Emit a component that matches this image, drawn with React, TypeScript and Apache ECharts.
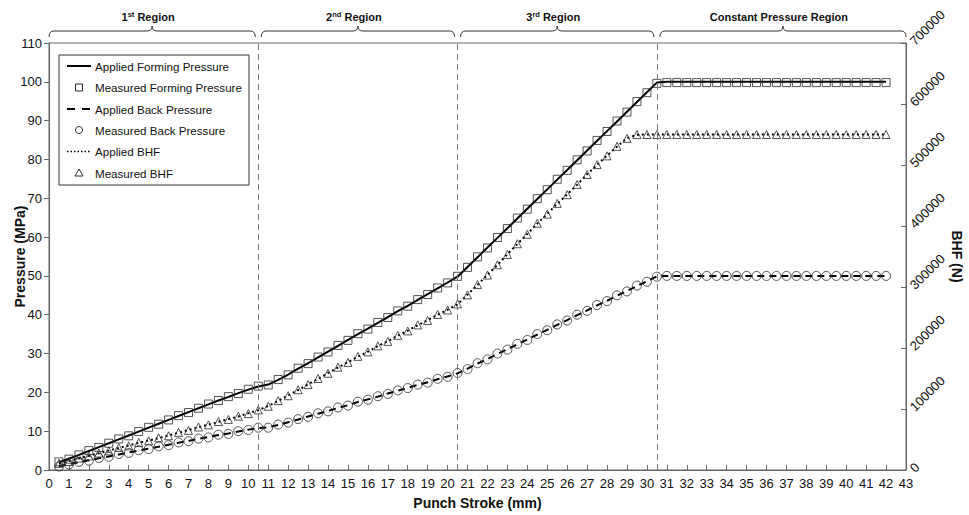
import React, { useEffect, useRef } from "react";
import * as echarts from "echarts";

// Punch stroke (mm) at which the values are sampled
const stroke = [
  0.5, 1, 1.5, 2, 2.5, 3, 3.5, 4, 4.5, 5, 5.5, 6, 6.5, 7, 7.5, 8, 8.5, 9, 9.5, 10, 10.5,
  11, 11.5, 12, 12.5, 13, 13.5, 14, 14.5, 15, 15.5, 16, 16.5, 17, 17.5, 18, 18.5, 19, 19.5, 20, 20.5,
  21, 21.5, 22, 22.5, 23, 23.5, 24, 24.5, 25, 25.5, 26, 26.5, 27, 27.5, 28, 28.5, 29, 29.5, 30, 30.5,
  31, 31.5, 32, 32.5, 33, 33.5, 34, 34.5, 35, 35.5, 36, 36.5, 37, 37.5, 38, 38.5, 39, 39.5, 40, 40.5, 41, 41.5, 42,
];

// Pressure (MPa)
const appliedForming = [
  2.0, 2.9, 3.9, 4.9, 5.9, 6.9, 7.9, 8.9, 9.9, 10.9, 11.9, 12.9, 13.9, 14.9, 15.9, 16.9, 17.9, 18.8, 19.8, 20.7, 21.5,
  22.0, 23.2, 24.6, 26.1, 27.5, 29.0, 30.5, 32.0, 33.5, 35.0, 36.4, 37.9, 39.4, 40.9, 42.3, 43.8, 45.3, 46.8, 48.3, 49.8,
  52.3, 54.8, 57.3, 59.8, 62.3, 64.8, 67.3, 69.8, 72.3, 74.8, 77.3, 79.8, 82.3, 84.8, 87.3, 89.8, 92.3, 94.8, 97.3, 99.8,
  100, 100, 100, 100, 100, 100, 100, 100, 100, 100, 100, 100, 100, 100, 100, 100, 100, 100, 100, 100, 100, 100, 100,
];
const measuredForming = [
  2.1, 2.8, 3.9, 5.0, 5.8, 6.9, 8.0, 8.8, 9.9, 11.0, 11.8, 12.9, 14.0, 14.8, 15.9, 17.0, 17.9, 18.9, 19.7, 20.8, 21.6,
  21.9, 23.3, 24.5, 26.2, 27.4, 29.1, 30.4, 32.1, 33.4, 35.1, 36.3, 38.0, 39.3, 41.0, 42.2, 43.9, 45.2, 46.9, 48.2, 49.9,
  52.2, 54.9, 57.2, 59.9, 62.2, 64.9, 67.2, 69.9, 72.2, 74.9, 77.2, 79.9, 82.2, 84.9, 87.2, 89.9, 92.2, 94.9, 97.2, 99.6,
  99.8, 99.8, 99.8, 99.8, 99.8, 99.8, 99.8, 99.8, 99.8, 99.8, 99.8, 99.8, 99.8, 99.8, 99.8, 99.8, 99.8, 99.8, 99.8, 99.8, 99.8, 99.8, 99.8,
];
const appliedBack = [
  1.0, 1.5, 2.0, 2.5, 3.0, 3.5, 4.0, 4.5, 5.0, 5.5, 6.0, 6.5, 7.0, 7.5, 8.0, 8.5, 9.0, 9.4, 9.9, 10.4, 10.8,
  11.0, 11.6, 12.3, 13.0, 13.8, 14.5, 15.2, 16.0, 16.7, 17.5, 18.2, 18.9, 19.7, 20.4, 21.2, 21.9, 22.6, 23.4, 24.1, 24.9,
  26.1, 27.4, 28.6, 29.9, 31.1, 32.4, 33.6, 34.9, 36.1, 37.4, 38.6, 39.9, 41.1, 42.4, 43.6, 44.9, 46.1, 47.4, 48.6, 49.9,
  50, 50, 50, 50, 50, 50, 50, 50, 50, 50, 50, 50, 50, 50, 50, 50, 50, 50, 50, 50, 50, 50, 50,
];
const measuredBack = [
  0.9, 1.4, 2.1, 2.4, 3.1, 3.4, 4.1, 4.4, 5.1, 5.4, 6.1, 6.4, 7.1, 7.4, 8.1, 8.4, 9.1, 9.3, 10.0, 10.3, 10.9,
  10.9, 11.7, 12.2, 13.1, 13.7, 14.6, 15.1, 16.1, 16.6, 17.6, 18.1, 19.0, 19.6, 20.5, 21.1, 22.0, 22.5, 23.5, 24.0, 25.0,
  26.0, 27.5, 28.5, 30.0, 31.0, 32.5, 33.5, 35.0, 36.0, 37.5, 38.5, 40.0, 41.0, 42.5, 43.5, 45.0, 46.0, 47.5, 48.5, 49.8,
  50, 50, 50, 50, 50, 50, 50, 50, 50, 50, 50, 50, 50, 50, 50, 50, 50, 50, 50, 50, 50, 50, 50,
];

// Blank holder force (N)
const appliedBHF = [
  10200, 14600, 19100, 23500, 27400, 31800, 36300, 40100, 44500, 48400, 52200, 56600, 61100, 65500, 70000, 74500, 78900, 83400, 87800, 92900, 98000,
  105000, 113300, 122200, 131100, 140600, 149500, 159100, 168000, 176900, 185800, 194100, 203000, 211300, 220200, 228500, 237400, 245600, 254500, 262800, 271700,
  287600, 303500, 320100, 336000, 353800, 370400, 386900, 404100, 420000, 436500, 451800, 467700, 484900, 500200, 515500, 530100, 544100, 549500, 550000, 550000,
  550000, 550000, 550000, 550000, 550000, 550000, 550000, 550000, 550000, 550000, 550000, 550000, 550000, 550000, 550000, 550000, 550000, 550000, 550000, 550000, 550000, 550000, 550000,
];
const measuredBHF = [
  10800, 14000, 19600, 23000, 27900, 31300, 36800, 39600, 45000, 47900, 52700, 56100, 61600, 65000, 70500, 74000, 79400, 82900, 88300, 92400, 98500,
  104500, 113800, 121700, 131600, 140100, 150000, 158600, 168500, 176400, 186300, 193600, 203500, 210800, 220700, 228000, 237900, 245100, 255000, 262300, 272200,
  287100, 304000, 319600, 336500, 353300, 370900, 386400, 404600, 419500, 437000, 451300, 468200, 484400, 500700, 515000, 530600, 543600, 550000, 550000, 550000,
  550000, 550000, 550000, 550000, 550000, 550000, 550000, 550000, 550000, 550000, 550000, 550000, 550000, 550000, 550000, 550000, 550000, 550000, 550000, 550000, 550000, 550000, 550000,
];

// Region boundaries along the stroke (mm) and their titles
const regionBounds = [0, 10.5, 20.5, 30.5, 43];
const regionTitles = [
  "{b|1}{s|st}{b| Region}",
  "{b|2}{s|nd}{b| Region}",
  "{b|3}{s|rd}{b| Region}",
  "{b|Constant Pressure Region}",
];
const legendLabels = [
  "Applied Forming Pressure",
  "Measured Forming Pressure",
  "Applied Back Pressure",
  "Measured Back Pressure",
  "Applied BHF",
  "Measured BHF",
];

const FONT = "'Liberation Sans', Arial, Helvetica, sans-serif";

export default function App() {
  const ref = useRef<HTMLDivElement>(null);

  useEffect(() => {
    document.body.style.margin = "0";
    const chart = echarts.init(ref.current!, null, { renderer: "svg" });
    const pair = (ys: number[]) => stroke.map((x, i) => [x, ys[i]]);
    const markerStyle = { color: "rgba(0,0,0,0)", borderColor: "#2a2a2a", borderWidth: 1 };

    chart.setOption({
      animation: false,
      backgroundColor: "#ffffff",
      textStyle: { fontFamily: FONT },
      grid: {
        left: 49, right: 63, top: 43, bottom: 45,
        containLabel: false, outerBoundsMode: "none",
        show: true, borderColor: "#666", borderWidth: 1, backgroundColor: "transparent",
      },
      xAxis: {
        type: "value",
        min: 0,
        max: 43,
        interval: 1,
        name: "Punch Stroke (mm)",
        nameLocation: "middle",
        nameGap: 26,
        nameMoveOverlap: false,
        nameTextStyle: { fontFamily: FONT, fontSize: 14, fontWeight: "bold", color: "#111" },
        axisLine: { show: true, lineStyle: { color: "#666" } },
        axisTick: { show: true, inside: true, length: 5, lineStyle: { color: "#666" } },
        axisLabel: { fontFamily: FONT, fontSize: 13, color: "#111", margin: 7 },
        splitLine: { show: false },
      },
      yAxis: [
        {
          type: "value",
          min: 0,
          max: 110,
          interval: 10,
          position: "left",
          name: "Pressure (MPa)",
          nameLocation: "middle",
          nameGap: 22,
          nameMoveOverlap: false,
          nameTextStyle: { fontFamily: FONT, fontSize: 14, fontWeight: "bold", color: "#111" },
          axisLine: { show: true, lineStyle: { color: "#666" } },
          axisTick: { show: true, inside: false, length: 5, lineStyle: { color: "#666" } },
          axisLabel: { fontFamily: FONT, fontSize: 13, color: "#111", margin: 7 },
          splitLine: { show: false },
        },
        {
          type: "value",
          min: 0,
          max: 700000,
          interval: 100000,
          position: "right",
          name: "BHF (N)",
          nameLocation: "middle",
          nameRotate: -90,
          nameGap: 44,
          nameMoveOverlap: false,
          nameTextStyle: { fontFamily: FONT, fontSize: 14, fontWeight: "bold", color: "#111" },
          axisLine: { show: true, lineStyle: { color: "#666" } },
          axisTick: { show: true, inside: true, length: 5, lineStyle: { color: "#666" } },
          axisLabel: {
            fontFamily: FONT, fontSize: 13, color: "#111", margin: 6, rotate: 45,
            formatter: (v: number) => String(v),
          },
          splitLine: { show: false },
        },
      ],
      series: [
        {
          name: "Applied Forming Pressure",
          type: "line",
          data: pair(appliedForming),
          showSymbol: false,
          symbol: "none",
          z: 2,
          lineStyle: { color: "#000", width: 2 },
          markLine: {
            symbol: "none",
            silent: true,
            label: { show: false },
            lineStyle: { color: "#777", width: 1, type: [6, 4] },
            data: regionBounds.slice(1, 4).map((v) => ({ xAxis: v })),
          },
        },
        {
          name: "Measured Forming Pressure",
          type: "scatter",
          data: pair(measuredForming),
          symbol: "rect",
          symbolSize: 8,
          z: 3,
          itemStyle: markerStyle,
        },
        {
          name: "Applied Back Pressure",
          type: "line",
          data: pair(appliedBack),
          showSymbol: false,
          symbol: "none",
          z: 2,
          lineStyle: { color: "#000", width: 2, type: [7, 5] },
        },
        {
          name: "Measured Back Pressure",
          type: "scatter",
          data: pair(measuredBack),
          symbol: "circle",
          symbolSize: 9,
          z: 3,
          itemStyle: markerStyle,
        },
        {
          name: "Applied BHF",
          type: "line",
          yAxisIndex: 1,
          data: pair(appliedBHF),
          showSymbol: false,
          symbol: "none",
          z: 2,
          lineStyle: { color: "#000", width: 2, type: [2, 3] },
        },
        {
          name: "Measured BHF",
          type: "scatter",
          yAxisIndex: 1,
          data: pair(measuredBHF),
          symbol: "triangle",
          symbolSize: 8,
          z: 3,
          itemStyle: markerStyle,
        },
      ],
    });

    // Braces and region titles above the plot
    const px = (v: number) => chart.convertToPixel({ xAxisIndex: 0 }, v) as number;
    const graphics: any[] = [];
    const yl = 31;
    const yEnd = 37;
    const yTip = 26;
    const bs = { stroke: "#333", lineWidth: 1, fill: "none" };
    for (let i = 0; i < 4; i++) {
      const x1 = px(regionBounds[i]) + (i === 0 ? 0 : 3);
      const x2 = px(regionBounds[i + 1]) - (i === 3 ? 0 : 3);
      const xm = (x1 + x2) / 2;
      graphics.push(
        { type: "bezierCurve", shape: { x1, y1: yEnd, x2: x1 + 5, y2: yl, cpx1: x1, cpy1: yl }, style: bs },
        { type: "line", shape: { x1: x1 + 5, y1: yl, x2: xm - 5, y2: yl }, style: bs },
        { type: "bezierCurve", shape: { x1: xm - 5, y1: yl, x2: xm, y2: yTip, cpx1: xm, cpy1: yl }, style: bs },
        { type: "bezierCurve", shape: { x1: xm, y1: yTip, x2: xm + 5, y2: yl, cpx1: xm, cpy1: yl }, style: bs },
        { type: "line", shape: { x1: xm + 5, y1: yl, x2: x2 - 5, y2: yl }, style: bs },
        { type: "bezierCurve", shape: { x1: x2 - 5, y1: yl, x2: x2, y2: yEnd, cpx1: x2, cpy1: yl }, style: bs },
        {
          type: "text",
          x: xm - 4,
          y: 17,
          style: {
            text: regionTitles[i],
            align: "center",
            verticalAlign: "middle",
            fill: "#111",
            rich: {
              b: { fontFamily: FONT, fontSize: 11, fontWeight: "bold", fill: "#111", lineHeight: 14 },
              s: { fontFamily: FONT, fontSize: 7.5, fontWeight: "bold", fill: "#111", lineHeight: 8, verticalAlign: "top" },
            },
          },
        }
      );
    }

    // Legend box
    const lx = 59, ly = 55, lw = 190, lh = 130;
    graphics.push({ type: "rect", shape: { x: lx, y: ly, width: lw, height: lh }, style: { fill: "#fff", stroke: "#333", lineWidth: 1 }, z: 10 });
    const rowY = [66, 87.5, 109, 130, 151.5, 173];
    const ms = { fill: "none", stroke: "#2a2a2a", lineWidth: 1 };
    rowY.forEach((ry, i) => {
      const cx = 79;
      if (i === 0) graphics.push({ type: "line", z: 11, shape: { x1: 67, y1: ry, x2: 91, y2: ry }, style: { stroke: "#000", lineWidth: 2 } });
      if (i === 2) graphics.push({ type: "line", z: 11, shape: { x1: 67, y1: ry, x2: 91, y2: ry }, style: { stroke: "#000", lineWidth: 2, lineDash: [8, 7] } });
      if (i === 4) graphics.push({ type: "line", z: 11, shape: { x1: 67, y1: ry, x2: 91, y2: ry }, style: { stroke: "#000", lineWidth: 1.5, lineDash: [1.5, 2] } });
      if (i === 1) graphics.push({ type: "rect", z: 11, shape: { x: cx - 3.5, y: ry - 3.5, width: 7, height: 7 }, style: ms });
      if (i === 3) graphics.push({ type: "circle", z: 11, shape: { cx, cy: ry, r: 3.5 }, style: ms });
      if (i === 5) graphics.push({ type: "polygon", z: 11, shape: { points: [[cx, ry - 4], [cx + 4, ry + 3], [cx - 4, ry + 3]] }, style: ms });
      graphics.push({
        type: "text",
        z: 11,
        x: 95,
        y: ry,
        style: { text: legendLabels[i], fontFamily: FONT, fontSize: 11.6, fill: "#111", align: "left", verticalAlign: "middle" },
      });
    });

    chart.setOption({ graphic: graphics });

    return () => chart.dispose();
  }, []);

  return <div ref={ref} style={{ width: 969, height: 515 }} />;
}
